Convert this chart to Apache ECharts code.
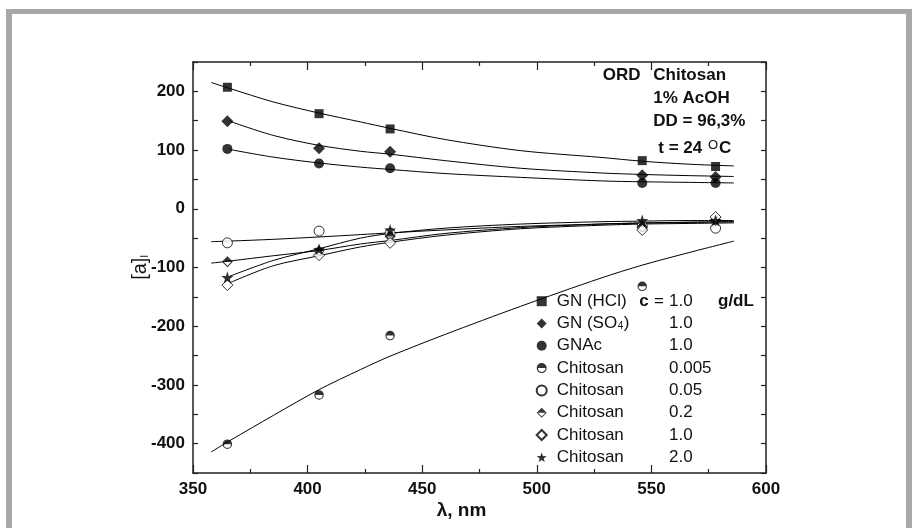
<!DOCTYPE html>
<html><head><meta charset="utf-8">
<script src="https://cdn.jsdelivr.net/npm/echarts@6/dist/echarts.min.js"></script>
<style>html,body{margin:0;padding:0;background:#fff}#c{width:918px;height:528px}</style>
</head><body><div id="c"></div><script>
// ---- data ----
const wavelengths = [365, 405, 436, 546, 578];
const gnHCl    = [207, 162, 136, 82, 72];
const gnSO4    = [149, 103, 97, 57, 54];
const gnAc     = [102, 77, 69, 44, 44];
const chit0005 = [-401, -317, -216, -132, null];
const chit005  = [-58, -38, -42, -30, -33];
const chit02   = [-90, -72, -47, -31, -20];
const chit10   = [-130, -79, -58, -36, -14];
const chit20   = [-117, -69, -36, -20, -20];

// fitted curves
const fitLambda  = [358, 366, 385, 405, 423, 436, 460, 493, 528, 546, 566, 586];
const fitHCl     = [215, 205, 182, 163, 148, 137, 118, 99, 87.5, 81, 76, 73];
const fitSO4     = [null, 149, 125, 108, 98, 93, 82, 69, 61, 58.5, 56.5, 55];
const fitAc      = [null, 101, 88, 78, 71, 67, 60, 53.5, 47.5, 46, 45, 44];
const fit0005    = [-414, -395, -352, -308, -274, -251, -214, -166, -118, -96, -75, -55];
const fit005     = [-56, -55, -52, -48, -44, -41, -36, -30, -26, -24.5, -23, -22];
const fit02      = [-92.5, -89, -80, -71, -60, -54, -42, -32, -26, -24, -23, -22];
const fit10      = [null, -126, -97, -80, -65, -57, -45, -34, -28, -26, -25, -24];
const fit20      = [null, -115, -88, -68, -50, -42, -33, -26, -22, -21, -20, -20];

const seriesNames = ['GN (HCl)', 'GN (SO4)', 'GNAc', 'Chitosan 0.005', 'Chitosan 0.05', 'Chitosan 0.2', 'Chitosan 1.0', 'Chitosan 2.0'];
const concLabels  = ['1.0', '1.0', '1.0', '0.005', '0.05', '0.2', '1.0', '2.0'];
const xTickLabels = [350, 400, 450, 500, 550, 600];
const yTickLabels = [-400, -300, -200, -100, 0, 100, 200];

// ---- rendering ----
const FONT = '"Liberation Sans", Arial, Helvetica, sans-serif';
const pts = (ys) => wavelengths.map((x, i) => [x, ys[i]]).filter(p => p[1] != null);
const fitPts = (ys) => fitLambda.map((x, i) => [x, ys[i]]).filter(p => p[1] != null);

const halfCircle = 'path://M10,0 A10,10 0 1,1 10,20 A10,10 0 1,1 10,0 Z M10,2.4 A7.6,7.6 0 1,0 10,17.6 A7.6,7.6 0 1,0 10,2.4 Z M2.4,10 A7.6,7.6 0 0,1 17.6,10 Z';
const halfDiamond = 'path://M10,0 L20,10 L10,20 L0,10 Z M10,2.6 L2.6,10 L10,17.4 L17.4,10 Z M2.6,10 L10,2.6 L17.4,10 Z';
const star = 'path://M10,0 L12.35,6.76 L19.51,6.91 L13.8,11.24 L15.88,18.09 L10,14 L4.12,18.09 L6.2,11.24 L0.49,6.91 L7.65,6.76 Z';

const markerDefs = [
  {data: gnHCl,    symbol: 'rect',    size: 9,  fill: '#000'},
  {data: gnSO4,    symbol: 'diamond', size: 12, fill: '#000'},
  {data: gnAc,     symbol: 'circle',  size: 10, fill: '#000'},
  {data: chit0005, symbol: halfCircle, size: 9.5, fill: '#000'},
  {data: chit005,  symbol: 'circle',  size: 10, fill: '#fff', border: true},
  {data: chit02,   symbol: halfDiamond, size: 11, fill: '#000'},
  {data: chit10,   symbol: 'diamond', size: 11, fill: '#fff', border: true},
  {data: chit20,   symbol: star,      size: 12, fill: '#000'}
];
const fits = [fitHCl, fitSO4, fitAc, fit0005, fit005, fit02, fit10, fit20];

const series = [];
fits.forEach(f => series.push({
  type: 'line', data: fitPts(f), smooth: 0.3, showSymbol: false, symbol: 'none',
  lineStyle: {color: '#000', width: 1}, silent: true, z: 2, legendHoverLink: false
}));
markerDefs.forEach((m, i) => series.push({
  type: 'scatter', name: seriesNames[i], data: pts(m.data), symbol: m.symbol, symbolSize: m.size,
  itemStyle: m.border ? {color: '#fff', borderColor: '#000', borderWidth: 1} : {color: m.fill},
  z: 5
}));

const base = {fontSize: 17, fontFamily: FONT, color: '#111', lineHeight: 16};
const legendRich = {
  sp:  Object.assign({}, base, {width: 5}),
  n:   Object.assign({}, base, {width: 112.3}),
  n1:  Object.assign({}, base, {width: 82.6}),
  n2a: Object.assign({}, base, {width: 61}),
  sub: {width: 6, fontSize: 10, fontFamily: FONT, color: '#111', lineHeight: 16, verticalAlign: 'bottom', padding: [6, 0, 0, 0]},
  n2b: Object.assign({}, base, {width: 45.3}),
  cb:  Object.assign({}, base, {width: 10, fontWeight: 'bold'}),
  eq:  Object.assign({}, base, {width: 19.7}),
  v:   Object.assign({}, base, {width: 49}),
  g:   Object.assign({}, base, {fontWeight: 'bold'})
};

function legendFormatter(name) {
  const i = seriesNames.indexOf(name);
  const c = concLabels[i];
  if (i === 0) return '{sp| }{n1|GN (HCl)}{cb|c}{eq| = }{v|' + c + '}{g|g/dL}';
  if (i === 1) return '{sp| }{n2a|GN (SO}{sub|4}{n2b|)}{v|' + c + '}';
  const label = name.split(' ')[0];
  return '{sp| }{n|' + label + '}{v|' + c + '}';
}

const axisLineStyle = {color: '#222', width: 1.5};
const xBase = {
  type: 'value', min: 350, max: 600, interval: 50,
  axisLine: {show: true, onZero: false, lineStyle: axisLineStyle},
  axisTick: {show: true, inside: true, length: 8, lineStyle: {color: '#222', width: 1.2}},
  minorTick: {show: true, splitNumber: 2, length: 4, lineStyle: {color: '#222', width: 1.2}},
  splitLine: {show: false}
};
const yBase = {
  type: 'value', min: -450, max: 250, interval: 50,
  axisLine: {show: true, onZero: false, lineStyle: axisLineStyle},
  axisTick: {show: true, inside: true, length: 5, lineStyle: {color: '#222', width: 1.2}},
  splitLine: {show: false}
};

const option = {
  backgroundColor: '#fff',
  animation: false,
  grid: {left: 193, right: 152, top: 62, bottom: 55, containLabel: false},
  xAxis: [
    Object.assign({}, xBase, {
      position: 'bottom',
      axisLabel: {show: true, margin: 8, fontSize: 17, fontWeight: 'bold', fontFamily: FONT, color: '#111',
        formatter: v => xTickLabels.includes(v) ? String(v) : ''},
      name: '{l|λ, nm}', nameLocation: 'middle', nameGap: 28, nameMoveOverlap: false,
      nameTextStyle: {rich: {l: {fontSize: 19, fontWeight: 'bold', fontFamily: FONT, color: '#111'}}, padding: [0, 36, 0, 0]}
    }),
    Object.assign({}, xBase, {position: 'top', axisLabel: {show: false}})
  ],
  yAxis: [
    Object.assign({}, yBase, {
      position: 'left',
      axisLabel: {show: true, margin: 8, fontSize: 17, fontWeight: 'bold', fontFamily: FONT, color: '#111',
        formatter: v => yTickLabels.includes(v) ? String(v) : ''},
      name: '{a|[a]}{s|l}', nameLocation: 'middle', nameRotate: 90, nameGap: 43, nameMoveOverlap: false,
      nameTextStyle: {rich: {
        a: {fontSize: 20, fontFamily: FONT, color: '#111'},
        s: {fontSize: 11, fontFamily: FONT, color: '#111', verticalAlign: 'bottom', padding: [7, 0, 0, 0]}
      }}
    }),
    Object.assign({}, yBase, {position: 'right', axisLabel: {show: false}})
  ],
  legend: {
    orient: 'vertical', left: 535.7, top: 292.7, padding: 0,
    itemWidth: 10, itemHeight: 10, itemGap: 5.3,
    data: seriesNames, selectedMode: false,
    formatter: legendFormatter,
    textStyle: {rich: legendRich, fontFamily: FONT, fontSize: 17}
  },
  graphic: [
    {type: 'rect', shape: {x: 6, y: 9, width: 906, height: 5}, style: {fill: '#a7a7aa'}, silent: true},
    {type: 'rect', shape: {x: 6, y: 9, width: 6, height: 519}, style: {fill: '#a7a7aa'}, silent: true},
    {type: 'rect', shape: {x: 906, y: 9, width: 6, height: 519}, style: {fill: '#a7a7aa'}, silent: true},
    {type: 'text', x: 602.7, y: 75, style: {text: 'ORD', font: 'bold 17px ' + FONT, fill: '#111', verticalAlign: 'middle'}},
    {type: 'text', x: 653.3, y: 75, style: {text: 'Chitosan', font: 'bold 17px ' + FONT, fill: '#111', verticalAlign: 'middle'}},
    {type: 'text', x: 653.3, y: 98.3, style: {text: '1% AcOH', font: 'bold 17px ' + FONT, fill: '#111', verticalAlign: 'middle'}},
    {type: 'text', x: 653.3, y: 121.7, style: {text: 'DD = 96,3%', font: 'bold 17px ' + FONT, fill: '#111', verticalAlign: 'middle'}},
    {type: 'text', x: 658.3, y: 148.3, style: {
      text: '{t|t = 24 }{o|O}{t|C}', fill: '#111', verticalAlign: 'middle',
      rich: {
        t: {fontSize: 17, fontWeight: 'bold', fontFamily: FONT, fill: '#111'},
        o: {fontSize: 13, fontFamily: FONT, fill: '#111', verticalAlign: 'top', padding: [0, 1, 6, 1]}
      }
    }}
  ],
  series: series
};

const chart = echarts.init(document.getElementById('c'), null, {renderer: 'canvas'});
chart.setOption(option);
</script></body></html>
